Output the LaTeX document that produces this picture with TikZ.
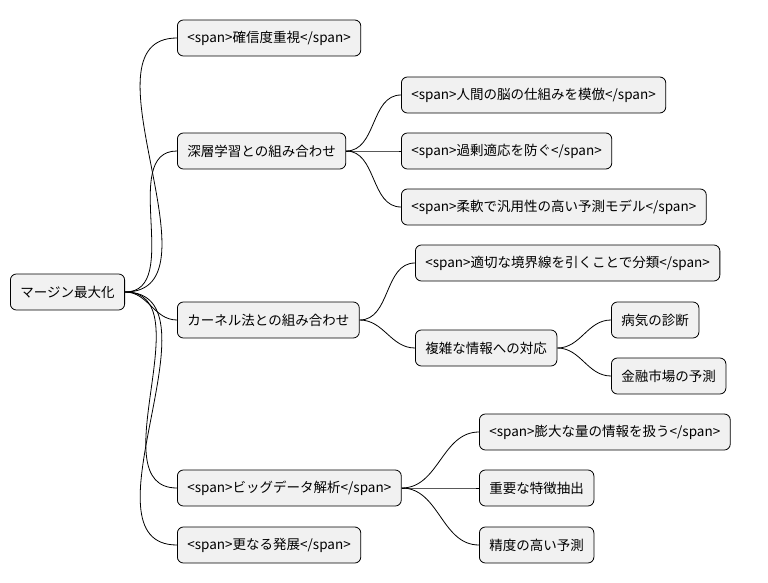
\documentclass[tikz,border=0pt]{standalone}
\usepackage{fontspec}
\setmainfont{Noto Sans CJK JP}
\begin{document}
\begin{tikzpicture}[x=1pt,y=1pt,
  box/.style={draw=black,line width=0.8pt,fill={rgb,255:red,241;green,241;blue,241},rounded corners=6pt,
    minimum height=36pt,inner xsep=10pt,anchor=west,font=\fontsize{13.5pt}{16pt}\selectfont},
  link/.style={draw=black,line width=0.8pt}]
\useasboundingbox (0,0) rectangle (768,-583);
\node[box] (r) at (10,-292) {マージン最大化};
\node[box] (a) at (177,-38) {<span>確信度重視</span>};
\node[box] (b) at (177,-151) {深層学習との組み合わせ};
\node[box] (b1) at (401,-95) {<span>人間の脳の仕組みを模倣</span>};
\node[box] (b2) at (401,-151) {<span>過剰適応を防ぐ</span>};
\node[box] (b3) at (401,-207) {<span>柔軟で汎用性の高い予測モデル</span>};
\node[box] (c) at (177,-320) {カーネル法との組み合わせ};
\node[box] (c1) at (415,-263) {<span>適切な境界線を引くことで分類</span>};
\node[box] (c2) at (415,-348) {複雑な情報への対応};
\node[box] (c21) at (611,-320) {病気の診断};
\node[box] (c22) at (611,-376) {金融市場の予測};
\node[box] (d) at (177,-488) {<span>ビッグデータ解析</span>};
\node[box] (d1) at (479,-432) {<span>膨大な量の情報を扱う</span>};
\node[box] (d2) at (479,-488) {重要な特徴抽出};
\node[box] (d3) at (479,-545) {精度の高い予測};
\node[box] (e) at (177,-545) {<span>更なる発展</span>};
\foreach \p/\c in {r/a,r/b,r/c,r/d,r/e,b/b1,b/b2,b/b3,c/c1,c/c2,c2/c21,c2/c22,d/d1,d/d2,d/d3}
  \draw[link] (\p.east) to[out=0,in=180] (\c.west);
\end{tikzpicture}
\end{document}
